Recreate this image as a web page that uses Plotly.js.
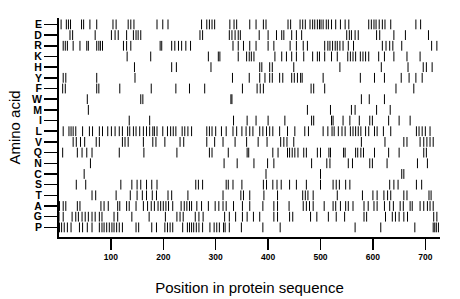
<!DOCTYPE html>
<html><head><meta charset="utf-8">
<script src="https://cdn.plot.ly/plotly-3.0.1.min.js"></script>
<style>html,body{margin:0;padding:0;background:#fff}#chart{width:460px;height:299px}</style>
</head><body><div id="chart"></div>
<script>
// Amino acid rows, top to bottom
const rowOrder = ['E','D','R','K','H','Y','F','W','M','I','L','V','Q','N','C','S','T','A','G','P'];

// Positions of each residue in the protein sequence
const posE = [5,15,19,23,44,48,60,73,104,110,133,138,144,188,199,209,273,283,288,293,298,327,335,340,365,377,391,396,438,443,461,466,471,480,485,489,494,498,501,505,511,515,521,529,538,547,554,592,597,602,606,612,618,623,634,682,691];
const posD = [22,27,70,101,108,114,130,143,148,152,157,270,275,326,331,337,343,347,383,400,416,426,430,445,454,464,550,555,559,566,572,607,613,640,662,706];
const posR = [9,13,17,28,41,54,57,73,77,80,84,124,130,138,194,197,216,222,229,235,243,252,333,343,353,365,377,400,411,442,454,467,475,508,514,518,523,528,532,537,543,553,563,618,625,632,638,655,712,722];
const posK = [131,176,286,305,308,343,359,364,368,373,413,426,435,445,454,468,485,494,498,508,521,532,552,557,562,567,576,581,586,592,611,622,640,665,690];
const posH = [145,216,225,291,384,388,403,408,449,537,616,667,696,702,713];
const posY = [9,14,73,146,332,364,384,394,403,408,422,428,445,450,456,462,465,505,576,603,622,654,669,682,694];
const posF = [8,13,73,77,117,177,224,250,279,351,379,385,391,482,487,508,644,678];
const posW = [55,157,161,329,331,578,593,622];
const posM = [57,475,519,559,566,607,633];
const posI = [135,174,334,360,377,400,432,483,487,521,524,543,556,574,594,599,630,650,671];
const posL = [9,20,24,28,33,46,59,65,78,84,94,101,108,116,122,132,136,143,148,155,162,168,174,180,183,188,199,208,214,219,224,236,241,247,254,283,288,293,300,311,320,333,340,350,358,365,371,384,390,397,403,409,422,437,451,470,477,505,514,522,526,534,541,547,557,562,567,572,577,586,592,603,608,620,634,683,688,694,700,709];
const posV = [28,34,42,50,72,78,122,127,133,162,180,186,203,232,239,283,298,314,337,359,381,398,424,430,436,449,578,623,659,665,690,697,703,709,715];
const posQ = [8,36,45,54,64,116,163,226,288,293,324,360,363,409,419,437,441,446,451,457,468,473,494,500,516,519,544,547,567,571,577,582,603,630,650,697,702];
const posN = [61,316,341,373,399,411,483,512,518,553,561,594,599,627,685,704];
const posC = [49,396,500,655,659];
const posS = [34,52,119,140,150,157,168,178,188,262,267,275,320,324,333,350,391,397,409,417,425,441,454,473,500,524,530,536,548,556,632,640,648,683,693];
const posT = [64,71,110,137,150,160,168,179,187,209,216,247,314,348,353,365,392,418,466,471,476,486,532,580,600,608,621,628,634,659,665,707,711];
const posA = [2,9,14,36,41,81,87,95,113,117,130,135,148,162,170,177,183,190,195,200,205,210,218,234,240,245,250,254,264,273,286,299,306,314,320,334,351,365,390,411,418,440,467,473,479,486,507,524,529,538,548,553,562,583,591,602,608,622,632,639,652,658,671,675,690,697,704,709,715];
const posG = [1,9,26,33,38,45,51,57,64,70,78,83,106,113,140,173,204,226,232,238,261,268,276,317,326,338,351,360,372,384,411,418,441,447,481,493,515,530,546,583,588,624,637,643,650,659,666,716,722];
const posP = [2,6,11,17,24,40,46,55,64,78,83,87,92,97,102,106,111,116,122,148,153,178,187,203,208,213,218,237,246,250,254,258,263,268,275,289,297,302,307,315,318,326,349,390,423,566,615,680,715,718,721,725];

const xTickVals = [100,200,300,400,500,600,700];

const rowData = {E:posE,D:posD,R:posR,K:posK,H:posH,Y:posY,F:posF,W:posW,M:posM,I:posI,
  L:posL,V:posV,Q:posQ,N:posN,C:posC,S:posS,T:posT,A:posA,G:posG,P:posP};

const traces = rowOrder.map(aa => ({
  type:'scatter', mode:'markers',
  x: rowData[aa], y: rowData[aa].map(() => aa),
  marker:{symbol:'line-ns-open', size:7, color:'#000', line:{width:1, color:'#000'}},
  hoverinfo:'skip', showlegend:false
}));

const layout = {
  width:460, height:299,
  margin:{l:59, r:20, t:18, b:62},
  paper_bgcolor:'#fff', plot_bgcolor:'#fff',
  showlegend:false,
  font:{family:'Liberation Sans, Arial, Helvetica, sans-serif', color:'#000'},
  xaxis:{range:[1,728], tickvals:xTickVals, ticks:'outside', ticklen:11, tickwidth:1.5, tickcolor:'#000',
    showline:true, linewidth:2, linecolor:'#000', showgrid:false, zeroline:false, automargin:false,
    tickfont:{size:8.5, weight:'bold'}, title:{text:'Position in protein sequence', font:{size:15}, standoff:21}},
  yaxis:{type:'category', categoryorder:'array', categoryarray:rowOrder.slice().reverse(),
    tickmode:'array', tickvals:rowOrder, ticktext:rowOrder, automargin:false,
    range:[-0.9,19.6], ticks:'outside', ticklen:13, tickwidth:1.5, tickcolor:'#000',
    showline:true, linewidth:2, linecolor:'#000', showgrid:false, zeroline:false,
    tickfont:{size:10.5, weight:'bold'}, title:{text:'Amino acid', font:{size:15}, standoff:8}}
};

Plotly.newPlot('chart', traces, layout, {displayModeBar:false, staticPlot:true});
</script></body></html>
